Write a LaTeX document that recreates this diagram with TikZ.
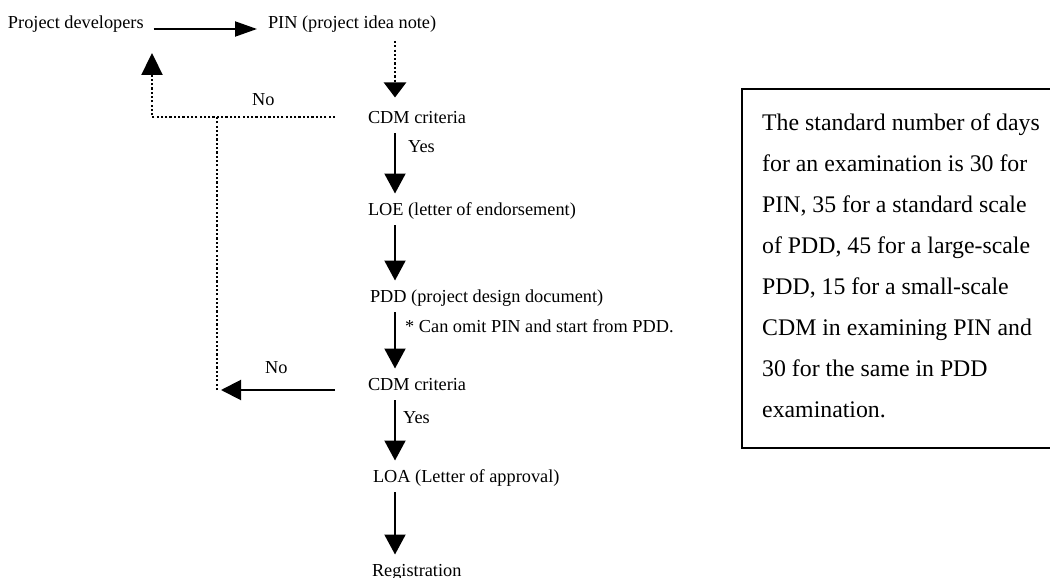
\documentclass[tikz,border=0pt]{standalone}
\usepackage{fontspec}
\setmainfont{Liberation Serif}
\usetikzlibrary{arrows.meta}

\tikzset{
  flow/.style={line width=2pt,-{Triangle[length=20pt,width=21pt]}},
  back/.style={line width=2.3pt,dash pattern=on 2.2pt off 2.1pt},
  stage/.style={anchor=base west,inner sep=0pt,outer xsep=0pt,outer ysep=7pt,
    text height=14.5pt,text depth=3pt,font=\fontsize{18.3}{22}\selectfont},
  remark/.style={anchor=base west,inner sep=0pt,font=\fontsize{18.3}{22}\selectfont},
}

\begin{document}
\begin{tikzpicture}[x=1pt,y=-1pt]
  \useasboundingbox
    (0,0)
    rectangle
    (1050,578);
  \coordinate (spine) at (395,0);
  \coordinate (join) at (217,118);
  \coordinate (devback) at (152,53);
  \coordinate (drop) at (221,390);
  \node[stage] (dev) at (8,29) {Project developers};
  \node[stage] (pin) at (268,29) {PIN (project idea note)};
  \node[stage] (crit1) at (368,123) {CDM criteria};
  \node[stage] (loe) at (368,215) {LOE (letter of endorsement)};
  \node[stage] (pdd) at (370,302) {PDD (project design document)};
  \node[stage] (crit2) at (368,390) {CDM criteria};
  \node[stage] (loa) at (373,482) {LOA (Letter of approval)};
  \node[stage] (reg) at (372,576) {Registration};
  \node[remark] (no1) at (252,106) {No};
  \node[remark] (yes1) at (408,152) {Yes};
  \node[remark] (skip) at (405,332) {* Can omit PIN and start from PDD.};
  \node[remark] (no2) at (265,373) {No};
  \node[remark] (yes2) at (403,423) {Yes};
  \draw[flow,-{Triangle[length=22pt,width=15pt]}]
    ([xshift=10pt]dev.base east)
    --
    ([xshift=-11pt]pin.base west);
  \draw[back,-{Triangle[length=15pt,width=22pt]}]
    ([yshift=-2pt]pin.south -| spine)
    --
    ([yshift=4pt]crit1.north -| spine);
  \draw[back,-{Triangle[length=22pt,width=21pt]}]
    ([xshift=-33pt]crit1.west)
    -|
    (devback);
  \draw[flow]
    (crit1.south -| spine)
    --
    (loe.north -| spine);
  \draw[flow]
    (loe.south -| spine)
    --
    (pdd.north -| spine);
  \draw[flow]
    (pdd.south -| spine)
    --
    (crit2.north -| spine);
  \draw[flow,-{Triangle[length=20pt,width=20pt]}]
    ([xshift=-33pt]crit2.base west)
    --
    (drop);
  \draw[back]
    (join |- drop)
    --
    (join |- crit1.west);
  \draw[flow]
    (crit2.south -| spine)
    --
    (loa.north -| spine);
  \draw[flow]
    (loa.south -| spine)
    --
    (reg.north -| spine);
  \draw[line width=2pt]
    (742,89)
    rectangle
    (1070,448);
  \node[anchor=north west,inner sep=0pt,align=left,
    font=\fontsize{23.8}{41}\selectfont] (note) at (762,114)
    {The standard number of days\\
     for an examination is 30 for\\
     PIN, 35 for a standard scale\\
     of PDD, 45 for a large-scale\\
     PDD, 15 for a small-scale\\
     CDM in examining PIN and\\
     30 for the same in PDD\\
     examination.};
\end{tikzpicture}
\end{document}
